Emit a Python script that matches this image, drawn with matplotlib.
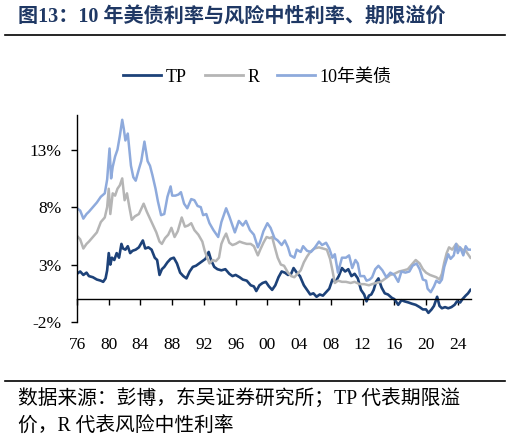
import matplotlib.pyplot as plt
from matplotlib.lines import Line2D

plt.rcParams['font.family'] = ['Liberation Serif', 'Noto Sans CJK SC']

# decimal year, value (%)
tp_year = [1976.0, 1976.4, 1976.8, 1977.2, 1977.5, 1978.0, 1978.5, 1979.0, 1979.3, 1979.6,
           1979.8, 1980.0, 1980.2, 1980.4, 1980.7, 1981.0, 1981.3, 1981.6, 1981.8, 1982.1,
           1982.4, 1982.7, 1983.0, 1983.4, 1983.8, 1984.3, 1984.6, 1985.0, 1985.4, 1985.8,
           1986.1, 1986.4, 1986.7, 1987.0, 1987.4, 1987.8, 1988.2, 1988.6, 1989.0, 1989.4,
           1989.8, 1990.2, 1990.6, 1991.0, 1991.4, 1991.8, 1992.2, 1992.6, 1992.9, 1993.3,
           1993.7, 1994.2, 1994.7, 1995.2, 1995.6, 1996.0, 1996.5, 1996.9, 1997.4, 1997.9,
           1998.3, 1998.6, 1999.0, 1999.4, 1999.8, 2000.2, 2000.6, 2001.0, 2001.4, 2001.8,
           2002.2, 2002.6, 2003.0, 2003.3, 2003.7, 2004.1, 2004.6, 2005.0, 2005.4, 2005.8,
           2006.2, 2006.6, 2007.0, 2007.4, 2007.8, 2008.2, 2008.6, 2009.0, 2009.4, 2009.8,
           2010.2, 2010.6, 2011.0, 2011.4, 2011.8, 2012.2, 2012.5, 2012.8, 2013.1, 2013.4,
           2013.7, 2014.0, 2014.4, 2014.8, 2015.2, 2015.7, 2016.0, 2016.5, 2016.9, 2017.3,
           2017.8, 2018.2, 2018.7, 2019.2, 2019.6, 2020.0, 2020.3, 2020.7, 2021.0, 2021.4,
           2021.7, 2022.0, 2022.4, 2022.8, 2023.2, 2023.6, 2023.9, 2024.3, 2024.6, 2025.0,
           2025.3, 2025.6]
tp_val = [2.2, 2.4, 2.1, 2.3, 2.0, 1.9, 1.7, 1.6, 1.5, 1.8,
          2.5, 4.0, 3.0, 3.6, 3.4, 4.0, 3.6, 4.8, 4.4, 4.3,
          4.6, 4.0, 4.2, 4.3, 4.5, 5.1, 4.4, 4.5, 4.3, 3.6,
          3.4, 2.1, 2.6, 2.8, 3.2, 3.5, 3.6, 3.1, 2.3, 2.0,
          1.8, 2.4, 2.8, 2.9, 3.1, 3.3, 3.5, 4.1, 3.4, 2.8,
          2.6, 2.5, 2.6, 2.2, 2.0, 2.1, 1.9, 1.7, 1.6, 1.2,
          1.1, 0.7, 1.2, 1.4, 1.5, 1.1, 0.8, 1.2, 1.9, 2.4,
          2.3, 2.1, 2.2, 2.7, 2.3, 2.0, 1.2, 0.8, 0.4, 0.5,
          0.2, 0.4, 0.3, 0.6, 0.9, 1.7, 1.5, 2.0, 2.7, 2.4,
          2.6, 2.0, 2.2, 1.8, 0.8, 0.4, -0.2, 0.3, 0.4, 0.8,
          1.5, 1.8, 1.0, 0.5, 0.4, 0.1, 0.0, -0.5, -0.1, -0.2,
          -0.3, -0.4, -0.5, -0.7, -0.9, -0.9, -1.2, -0.9, -0.6, 0.2,
          -0.6, -0.8, -0.7, -0.8, -0.7, -0.5, -0.2, -0.3, 0.0, 0.3,
          0.5, 0.8]

r_year = [1976.0, 1976.4, 1976.8, 1977.2, 1977.5, 1978.0, 1978.5, 1979.0, 1979.5, 1979.8,
          1980.0, 1980.2, 1980.5, 1980.8, 1981.1, 1981.4, 1981.7, 1982.0, 1982.3, 1982.6,
          1982.9, 1983.3, 1983.8, 1984.4, 1984.8, 1985.2, 1985.6, 1986.0, 1986.4, 1986.7,
          1987.1, 1987.5, 1987.9, 1988.3, 1988.7, 1989.2, 1989.6, 1990.0, 1990.4, 1990.8,
          1991.3, 1991.8, 1992.1, 1992.4, 1992.7, 1993.1, 1993.5, 1993.9, 1994.2, 1994.5,
          1994.8, 1995.2, 1995.6, 1996.0, 1996.5, 1996.9, 1997.4, 1997.9, 1998.3, 1998.8,
          1999.1, 1999.5, 1999.9, 2000.3, 2000.6, 2000.9, 2001.3, 2001.7, 2002.1, 2002.6,
          2003.0, 2003.4, 2003.8, 2004.2, 2004.6, 2005.0, 2005.4, 2005.9, 2006.5, 2007.0,
          2007.5, 2007.9, 2008.2, 2008.5, 2008.9, 2009.4, 2009.9, 2010.5, 2011.0, 2011.6,
          2012.2, 2012.8, 2013.2, 2013.7, 2014.3, 2014.9, 2015.5, 2016.0, 2016.6, 2017.2,
          2017.7, 2018.2, 2018.7, 2019.2, 2019.6, 2020.0, 2020.5, 2020.9, 2021.3, 2021.7,
          2022.0, 2022.3, 2022.6, 2022.9, 2023.3, 2023.8, 2024.2, 2024.6, 2025.0, 2025.3,
          2025.6]
r_val = [5.5, 5.2, 4.4, 4.8, 5.0, 5.4, 5.8, 6.7, 7.1, 8.0,
         9.6, 7.4, 9.2, 9.0, 9.6, 9.9, 10.5, 8.6, 9.2, 8.0,
         6.9, 7.2, 7.4, 8.3, 7.6, 7.0, 6.4, 5.8, 5.0, 4.8,
         5.3, 5.6, 6.2, 5.4, 5.9, 7.1, 6.3, 6.4, 6.6, 6.0,
         5.6, 5.0, 4.2, 3.6, 3.1, 3.4, 3.3, 3.6, 4.8, 5.3,
         5.7, 4.9, 4.7, 4.8, 5.0, 4.9, 4.8, 4.8, 4.6, 3.8,
         4.3, 4.9, 5.4, 5.3, 5.4, 4.6, 3.6, 3.0, 2.9, 2.3,
         2.0, 1.9, 2.2, 2.5, 3.2, 3.7, 4.1, 4.4, 4.5, 4.4,
         4.3, 3.5, 2.5, 1.4, 1.6, 1.5, 1.5, 1.4, 1.5, 1.3,
         1.3, 1.2, 1.3, 1.4, 1.5, 1.8, 2.1, 2.2, 2.4, 2.5,
         2.6, 3.0, 3.4, 3.1, 2.6, 2.3, 2.1, 2.0, 1.9, 1.7,
         2.2, 3.2, 4.0, 4.5, 4.3, 4.8, 4.5, 4.3, 4.2, 3.9,
         3.6]

y10_year = [1976.0, 1976.4, 1976.8, 1977.2, 1977.5, 1978.0, 1978.5, 1979.0, 1979.5, 1979.8,
            1980.1, 1980.3, 1980.5, 1980.8, 1981.1, 1981.4, 1981.7, 1981.9, 1982.1, 1982.4,
            1982.8, 1983.1, 1983.4, 1983.8, 1984.1, 1984.5, 1984.9, 1985.2, 1985.5, 1985.9,
            1986.2, 1986.6, 1987.0, 1987.4, 1987.8, 1988.0, 1988.4, 1988.8, 1989.1, 1989.5,
            1989.9, 1990.4, 1990.8, 1991.2, 1991.6, 1991.9, 1992.3, 1992.7, 1993.2, 1993.8,
            1994.2, 1994.8, 1995.2, 1995.6, 1995.9, 1996.4, 1996.9, 1997.3, 1997.8, 1998.3,
            1998.8, 1999.1, 1999.5, 2000.0, 2000.4, 2000.9, 2001.3, 2001.8, 2002.2, 2002.6,
            2002.9, 2003.4, 2003.7, 2004.2, 2004.5, 2005.0, 2005.5, 2005.9, 2006.5, 2006.9,
            2007.4, 2007.8, 2008.2, 2008.5, 2008.9, 2009.4, 2009.9, 2010.3, 2010.7, 2011.1,
            2011.4, 2011.7, 2012.2, 2012.5, 2012.9, 2013.2, 2013.6, 2014.0, 2014.5, 2015.0,
            2015.5, 2016.0, 2016.5, 2016.9, 2017.4, 2017.9, 2018.3, 2018.8, 2019.2, 2019.6,
            2020.0, 2020.2, 2020.6, 2021.0, 2021.3, 2021.7, 2022.0, 2022.3, 2022.8, 2023.1,
            2023.5, 2023.8, 2024.0, 2024.3, 2024.7, 2025.0, 2025.3, 2025.6]
y10_val = [7.9, 7.7, 7.0, 7.4, 7.6, 8.0, 8.4, 8.9, 9.2, 10.4,
           13.1, 10.5, 11.5, 12.4, 13.0, 14.2, 15.6, 14.8, 13.8, 14.4,
           11.6, 10.6, 10.3, 11.3, 12.0, 13.7, 12.0, 11.6, 10.8, 9.6,
           8.5, 7.3, 7.4, 8.9, 9.8, 9.0, 9.0, 9.1, 9.3, 8.3,
           7.9, 8.7, 8.6, 8.1, 8.0, 7.3, 7.4, 6.6, 6.0, 5.4,
           6.7, 7.9, 7.2, 6.4, 5.8, 6.8, 6.4, 6.8, 6.0, 5.6,
           4.5, 5.0, 5.9, 6.6, 6.2, 5.3, 5.1, 4.7, 5.1, 4.5,
           3.8, 3.6, 4.3, 4.1, 4.6, 4.2, 4.1, 4.4, 5.0, 4.7,
           4.9, 4.4, 3.6, 3.9, 2.3, 3.6, 3.6, 3.8, 2.7, 3.4,
           3.1, 2.0, 2.0, 1.6, 1.7, 1.9, 2.6, 2.9, 2.5, 1.9,
           2.3, 2.1, 1.5, 2.4, 2.3, 2.4, 2.9, 3.1, 2.6, 1.7,
           1.6, 0.9, 0.6, 1.1, 1.6, 1.4, 1.7, 2.8, 3.9, 3.5,
           3.8, 4.8, 4.0, 4.5, 3.8, 4.6, 4.3, 4.3]

x_ticks = [1976, 1980, 1984, 1988, 1992, 1996, 2000, 2004, 2008, 2012, 2016, 2020, 2024]
x_labels = ["76", "80", "84", "88", "92", "96", "00", "04", "08", "12", "16", "20", "24"]
y_ticks = [-2, 3, 8, 13]
y_labels = ["-2%", "3%", "8%", "13%"]

c_tp = "#1d4279"
c_r = "#b5b5b5"
c_10y = "#8eaadc"

fig = plt.figure(figsize=(5.1, 4.43), dpi=100)
ax = fig.add_axes([0.151, 0.273, 0.773, 0.467])

ax.plot(tp_year, tp_val, color=c_tp, lw=1.9, label="TP")
ax.plot(r_year, r_val, color=c_r, lw=1.8, label="R")
ax.plot(y10_year, y10_val, color=c_10y, lw=1.8, label="10年美债")

ax.set_xlim(1976, 2025.7)
ax.set_ylim(-2, 16)
ax.set_xticks(x_ticks)
ax.set_xticklabels(x_labels)
ax.set_yticks(y_ticks)
ax.set_yticklabels(y_labels)

# x axis drawn through zero, labels kept at the bottom
ax.spines['bottom'].set_position(('data', 0))
ax.spines['top'].set_visible(False)
ax.spines['right'].set_visible(False)
ax.spines['left'].set_linewidth(1.0)
ax.spines['bottom'].set_linewidth(1.0)
ax.tick_params(axis='x', direction='out', length=4, width=1.0, pad=23, labelsize=12.5)
ax.tick_params(axis='y', direction='out', length=4, width=1.0, pad=7, labelsize=12.5)

handles = [Line2D([], [], color=c, lw=2) for c in (c_tp, c_r, c_10y)]
fig.legend(handles, ["TP", "R", "10年美债"], ncol=3, loc="center",
           bbox_to_anchor=(0.505, 0.826), frameon=False, fontsize=13,
           handlelength=2.1, handletextpad=0.25, columnspacing=1.0)

# title and separators
fig.text(0.035, 0.962, "图13：10 年美债利率与风险中性利率、期限溢价", fontsize=14.5,
         fontweight='bold', color="#1f3864", va='center', ha='left')
fig.add_artist(Line2D([0.01, 0.99], [0.921, 0.921], color='black', lw=1.2))
fig.add_artist(Line2D([0.01, 0.99], [0.140, 0.140], color='black', lw=1.2))

fig.text(0.035, 0.097, "数据来源：彭博，东吴证券研究所；TP 代表期限溢", fontsize=14.2,
         va='center', ha='left')
fig.text(0.035, 0.036, "价，R 代表风险中性利率", fontsize=14.2, va='center', ha='left')

fig.savefig("out.png", dpi=100)
